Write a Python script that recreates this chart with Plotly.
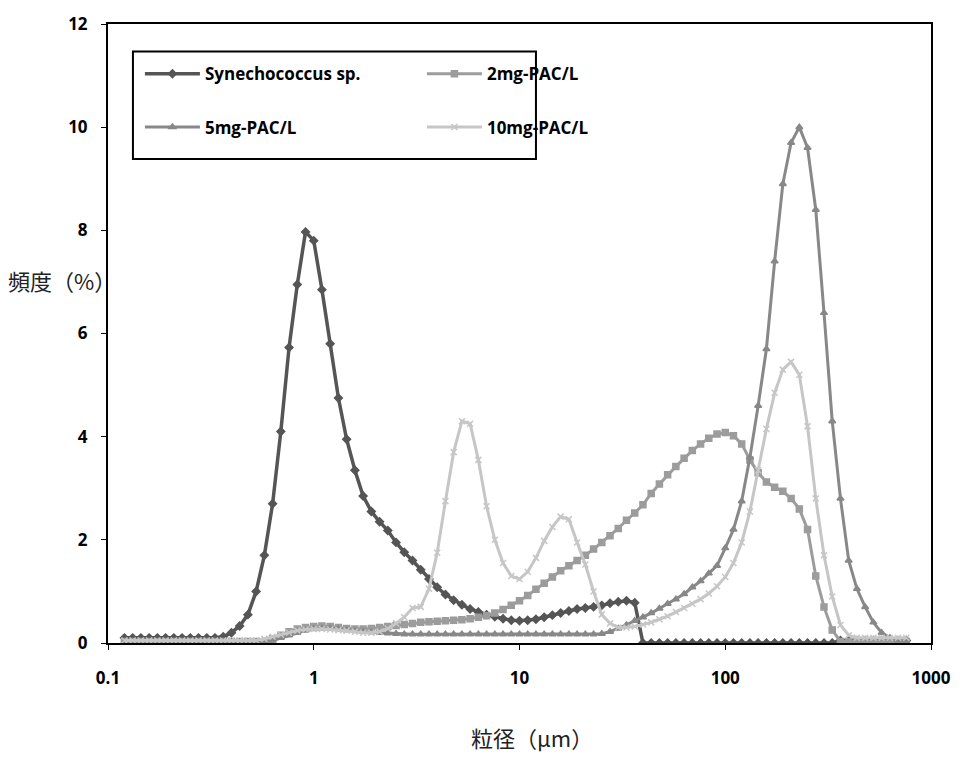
import plotly.graph_objects as go

# Particle-size channels: 25 per decade, 0.1-1000 um
MANTISSA = [1.000, 1.096, 1.202, 1.318, 1.445, 1.585, 1.738, 1.905, 2.089, 2.291,
            2.512, 2.754, 3.020, 3.311, 3.631, 3.981, 4.365, 4.786, 5.248, 5.754,
            6.310, 6.918, 7.586, 8.318, 9.120]
DECADES = [0.1, 1, 10, 100]
channels = [round(m * d, 5) for d in DECADES for m in MANTISSA] + [1000.0]
size_um = channels[2:98]

# Frequency (%) per channel
syn = ([0.1] * 12 +
       [0.12, 0.2, 0.33, 0.55, 1.0, 1.7, 2.7, 4.1, 5.73, 6.95, 7.97, 7.8, 6.85,
        5.8, 4.75, 3.95, 3.35, 2.85, 2.55, 2.35, 2.18, 1.95, 1.76, 1.6, 1.42,
        1.24, 1.08, 0.94, 0.83, 0.74, 0.66, 0.6, 0.55, 0.51, 0.47, 0.44, 0.43,
        0.44, 0.46, 0.5, 0.54, 0.58, 0.62, 0.66, 0.68, 0.7, 0.73, 0.77, 0.8,
        0.82, 0.78] +
       [0.0] * 24 + [0.05] * 9)

pac2 = ([0.03] * 18 +
        [0.08, 0.15, 0.22, 0.27, 0.3, 0.32, 0.33, 0.32, 0.3, 0.28, 0.27, 0.27,
         0.28, 0.3, 0.32, 0.34, 0.36, 0.38, 0.4, 0.41, 0.42, 0.43, 0.44, 0.45,
         0.47, 0.5, 0.53, 0.58, 0.65, 0.73, 0.82, 0.92, 1.04, 1.16, 1.28, 1.4,
         1.5, 1.6, 1.7, 1.82, 1.95, 2.08, 2.22, 2.38, 2.52, 2.68, 2.9, 3.08,
         3.26, 3.42, 3.58, 3.73, 3.86, 3.97, 4.05, 4.08, 4.02, 3.86, 3.55, 3.3,
         3.12, 3.02, 2.94, 2.8, 2.6, 2.2, 1.3, 0.7, 0.25] +
        [0.03] * 9)

pac5 = ([0.02] * 18 +
        [0.05, 0.1, 0.15, 0.2, 0.24, 0.27, 0.28, 0.28, 0.27, 0.25, 0.24, 0.22,
         0.21, 0.2, 0.19, 0.18] +
        [0.17] * 24 +
        [0.18, 0.22, 0.28, 0.35, 0.43, 0.5, 0.58, 0.67, 0.76, 0.85, 0.95, 1.08,
         1.2, 1.35, 1.5, 1.84, 2.2, 2.75, 3.6, 4.6, 5.7, 7.4, 8.9, 9.7, 10.0,
         9.6, 8.4, 6.4, 4.3, 2.8, 1.6, 1.05, 0.7, 0.4, 0.2, 0.1, 0.05, 0.05])

pac10 = ([0.05] * 17 +
         [0.08, 0.12, 0.16, 0.2, 0.24, 0.26, 0.27, 0.27, 0.26, 0.25, 0.24, 0.22,
          0.2, 0.2, 0.22, 0.28, 0.38, 0.5, 0.68, 0.7, 1.05, 1.75, 2.75, 3.7, 4.3,
          4.25, 3.55, 2.65, 2.0, 1.55, 1.3, 1.24, 1.38, 1.65, 1.98, 2.25, 2.45,
          2.4, 1.95, 1.52, 1.0, 0.55, 0.38, 0.3, 0.3, 0.32, 0.36, 0.4, 0.46,
          0.52, 0.6, 0.68, 0.76, 0.85, 0.96, 1.1, 1.28, 1.55, 1.95, 2.55, 3.35,
          4.15, 4.85, 5.3, 5.45, 5.2, 4.2, 2.8, 1.7, 0.9, 0.35, 0.15] +
         [0.1] * 7)

# name, values, colour, marker, line width, legend row
series = [
    ("Synechococcus sp.", syn, "#555555", "diamond", 3.5, "legend"),
    ("2mg-PAC/L", pac2, "#9c9c9c", "square", 3, "legend"),
    ("5mg-PAC/L", pac5, "#888888", "triangle-up", 3, "legend2"),
    ("10mg-PAC/L", pac10, "#c6c6c6", "x-thin-open", 3, "legend2"),
]

fig = go.Figure()
for name, vals, color, symbol, width, leg in series:
    fig.add_trace(go.Scatter(
        x=size_um, y=vals, name=name, mode="lines+markers", legend=leg,
        line=dict(color=color, width=width),
        marker=dict(symbol=symbol, size=6, color=color,
                    line=dict(color=color, width=1.5)),
    ))

tick_font = dict(family="Open Sans, Liberation Sans, sans-serif", size=17,
                 color="black", weight="bold")
cjk_font = dict(family="Noto Sans CJK JP", size=22, color="#222222")
legend_font = dict(family="Open Sans, Liberation Sans, sans-serif", size=17,
                   color="black", weight="bold")

PLOT_L, PLOT_T, PLOT_W, PLOT_H = 108, 15, 825, 628


def px_x(p):
    return (p - PLOT_L) / PLOT_W


def px_y(p):
    return (PLOT_T + PLOT_H - p) / PLOT_H


legend_common = dict(
    orientation="h", xanchor="left", yanchor="middle",
    entrywidth=212, entrywidthmode="pixels",
    bgcolor="rgba(0,0,0,0)", borderwidth=0,
    font=legend_font, itemwidth=55,
)

fig.update_layout(
    width=963, height=759,
    margin=dict(l=PLOT_L, r=963 - PLOT_L - PLOT_W, t=PLOT_T, b=759 - PLOT_T - PLOT_H),
    paper_bgcolor="white", plot_bgcolor="white",
    showlegend=True,
    legend=dict(x=px_x(140), y=px_y(66), **legend_common),
    legend2=dict(x=px_x(140), y=px_y(120), **legend_common),
    shapes=[dict(type="rect", xref="paper", yref="paper",
                 x0=px_x(133), x1=px_x(537), y0=px_y(152), y1=px_y(43),
                 line=dict(color="black", width=2), fillcolor="white",
                 layer="below")],
    xaxis=dict(
        type="log", range=[-1, 3],
        tickvals=[0.1, 1, 10, 100, 1000],
        ticktext=["0.1", "1", "10", "100", "1000"],
        showgrid=False, zeroline=False,
        showline=True, linecolor="black", linewidth=2, mirror=True,
        ticks="outside", ticklen=5, tickcolor="black",
        tickfont=tick_font, ticklabelstandoff=14,
    ),
    yaxis=dict(
        range=[0, 12], tickvals=[0, 2, 4, 6, 8, 10, 12],
        showgrid=False, zeroline=False,
        showline=True, linecolor="black", linewidth=2, mirror=True,
        ticks="outside", ticklen=5, tickcolor="black",
        tickfont=tick_font, ticklabelstandoff=10,
    ),
    annotations=[
        dict(text="頻度（%）", xref="paper", yref="paper",
             x=px_x(6), y=px_y(275),
             xanchor="left", yanchor="middle", showarrow=False, font=cjk_font),
        dict(text="粒径（μm）", xref="paper", yref="paper",
             x=px_x(533), y=px_y(738),
             xanchor="center", yanchor="middle", showarrow=False, font=cjk_font),
    ],
)

fig.write_html("out.html")
